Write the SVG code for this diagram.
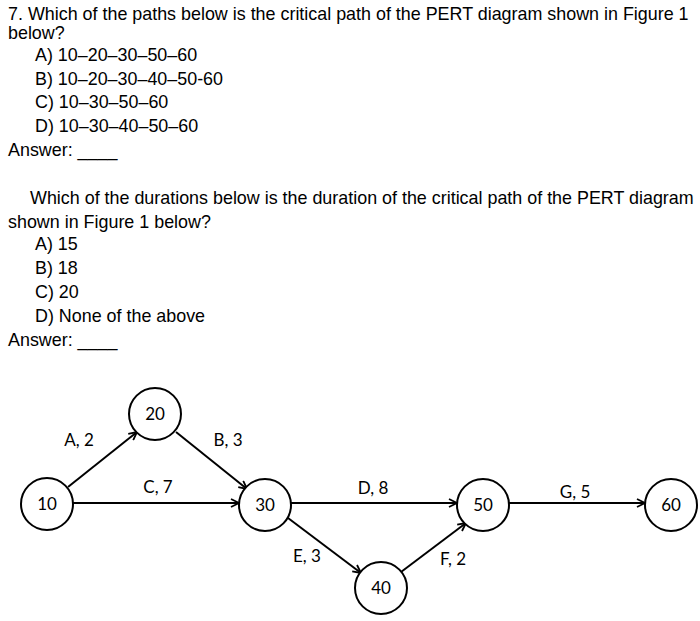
<svg xmlns="http://www.w3.org/2000/svg" width="700" height="621" viewBox="0 0 700 621">
<style>
.q{font-family:"Liberation Sans",Arial,sans-serif;font-size:17.9px;fill:#000}
.n{fill:#fff;stroke:#000;stroke-width:2}
.t{font-family:Lato,"Open Sans",sans-serif;font-size:17px;fill:#000;text-anchor:middle}
.e{stroke:#000;stroke-width:2;fill:none;marker-end:url(#a)}
</style>
<defs><marker id="a" markerWidth="10" markerHeight="10" refX="9" refY="5" orient="auto" markerUnits="userSpaceOnUse"><path d="M1,1 L9,5 L1,9" fill="none" stroke="#000" stroke-width="1.8"/></marker></defs>
<rect width="700" height="621" fill="#fff"/>
<g id="text">
<text class="q" x="8" y="20">7. Which of the paths below is the critical path of the PERT diagram shown in Figure 1</text>
<text class="q" x="8" y="39">below?</text>
<text class="q" x="35" y="61">A) 10–20–30–50–60</text>
<text class="q" x="35" y="85">B) 10–20–30–40–50-60</text>
<text class="q" x="35" y="108">C) 10–30–50–60</text>
<text class="q" x="35" y="132">D) 10–30–40–50–60</text>
<text class="q" x="8" y="156">Answer: <tspan>____</tspan></text>
<text class="q" x="30" y="204">Which of the durations below is the duration of the critical path of the PERT diagram</text>
<text class="q" x="8" y="228">shown in Figure 1 below?</text>
<text class="q" x="35" y="250">A) 15</text>
<text class="q" x="35" y="274">B) 18</text>
<text class="q" x="35" y="298">C) 20</text>
<text class="q" x="35" y="322">D) None of the above</text>
<text class="q" x="8" y="346">Answer: <tspan>____</tspan></text>
</g>
<g id="connectors">
<line class="e" x1="68" y1="487" x2="137" y2="432"/>
<line class="e" x1="176" y1="432" x2="247" y2="489"/>
<line class="e" x1="73" y1="503" x2="239" y2="503"/>
<line class="e" x1="291" y1="503" x2="457" y2="503"/>
<line class="e" x1="288" y1="518" x2="361" y2="573"/>
<line class="e" x1="401" y1="572" x2="466" y2="523"/>
<line class="e" x1="509" y1="503" x2="645" y2="503"/>
<text class="t" x="79" y="446">A, 2</text>
<text class="t" x="228" y="446">B, 3</text>
<text class="t" x="158" y="493">C, 7</text>
<text class="t" x="373" y="494">D, 8</text>
<text class="t" x="307" y="562">E, 3</text>
<text class="t" x="453" y="565">F, 2</text>
<text class="t" x="575" y="498">G, 5</text>
</g>
<g id="n10"><circle class="n" cx="47" cy="504" r="26"/><text class="t" x="47" y="510">10</text></g>
<g id="n20"><circle class="n" cx="155" cy="414" r="26"/><text class="t" x="155" y="420">20</text></g>
<g id="n30"><circle class="n" cx="265" cy="505" r="26"/><text class="t" x="265" y="511">30</text></g>
<g id="n40"><circle class="n" cx="381" cy="588" r="26"/><text class="t" x="381" y="594">40</text></g>
<g id="n50"><circle class="n" cx="483" cy="505" r="26"/><text class="t" x="483" y="511">50</text></g>
<g id="n60"><circle class="n" cx="671" cy="505" r="26"/><text class="t" x="671" y="511">60</text></g>
</svg>
